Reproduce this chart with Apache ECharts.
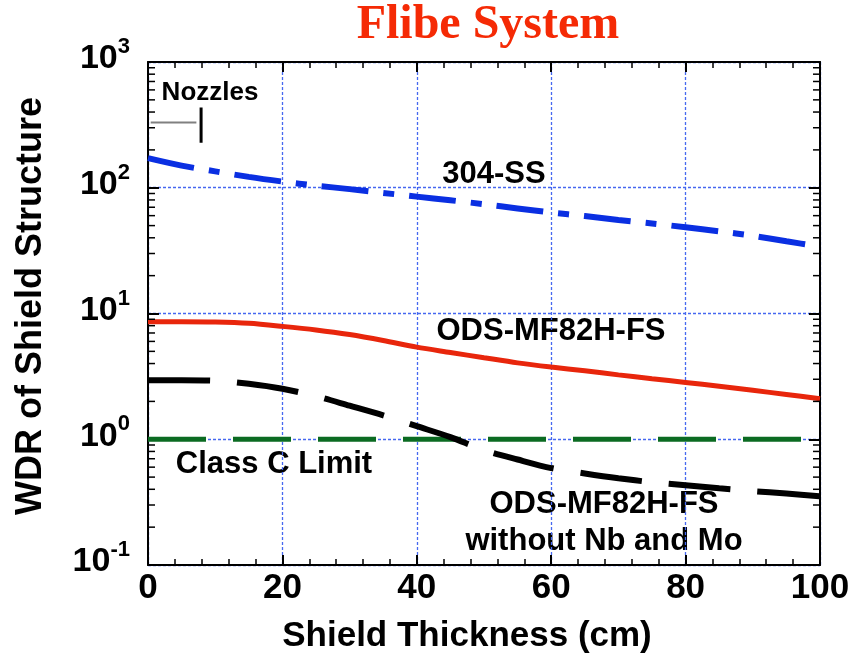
<!DOCTYPE html>
<html>
<head>
<meta charset="utf-8">
<script src="https://cdn.jsdelivr.net/npm/echarts@6/dist/echarts.min.js"></script>
<style>
  html, body { margin: 0; padding: 0; background: #fff; }
  #chart { width: 853px; height: 655px; }
</style>
</head>
<body>
<div id="chart"></div>
<script>
// shield thickness (cm)
const thickness = [0, 5, 10, 15, 20, 25, 30, 35, 40, 45, 50, 55, 60, 65, 70, 75, 80, 85, 90, 95, 100];
// WDR values
const ss304 = [172, 150, 135, 122, 112, 104, 97.5, 91, 85, 79.5, 74, 68.5, 63.5, 59.5, 55.5, 52, 48.5, 45, 41.5, 37.5, 34];
const odsFs = [8.6, 8.6, 8.55, 8.35, 7.9, 7.4, 6.8, 6.1, 5.4, 4.9, 4.45, 4.05, 3.75, 3.5, 3.25, 3.03, 2.83, 2.64, 2.45, 2.27, 2.1];
const odsNoNbMo = [2.95, 2.95, 2.92, 2.76, 2.52, 2.2, 1.85, 1.55, 1.27, 1.04, 0.82, 0.69, 0.59, 0.535, 0.49, 0.455, 0.43, 0.407, 0.387, 0.37, 0.352];
const limitX = [0, 100];
const limitY = [1, 1];
// nozzles marker
const nozzleBarX = [0.4, 7.2];
const nozzleBarY = [330, 330];
const nozzleTickX = [7.9, 7.9];
const nozzleTickY = [434, 228];
// axes
const xTicks = [0, 20, 40, 60, 80, 100];
const yDecades = [0.1, 1, 10, 100, 1000];
const minorFactors = [2, 3, 4, 5, 6, 7, 8, 9];

const FONT = '"Liberation Sans", Arial, Helvetica, sans-serif';
const GRID_COLOR = '#4668f0';
const pair = (xs, ys) => xs.map((x, i) => [x, ys[i]]);

const minorVals = [];
yDecades.slice(0, -1).forEach(d => minorFactors.forEach(f => minorVals.push([0, d * f])));

const chart = echarts.init(document.getElementById('chart'));

const option = {
  animation: false,
  grid: { left: 148, right: 33, top: 62, bottom: 90 },
  xAxis: [
    {
      type: 'value', min: xTicks[0], max: xTicks[xTicks.length - 1], interval: 20,
      axisLine: { onZero: false, lineStyle: { color: '#000', width: 2 } },
      axisTick: { inside: true, length: 10, lineStyle: { color: '#000', width: 2 } },
      minorTick: { show: true, splitNumber: 5, length: 6, lineStyle: { color: '#000', width: 1.5 } },
      axisLabel: { margin: 6, color: '#000', fontSize: 35, fontWeight: 'bold', fontFamily: FONT },
      splitLine: { show: true, lineStyle: { color: GRID_COLOR, width: 1.3, type: [3, 2], opacity: 1 } }
    },
    {
      type: 'value', position: 'top', min: 0, max: 100, interval: 20,
      axisLine: { onZero: false, lineStyle: { color: '#000', width: 2 } },
      axisTick: { inside: true, length: 10, lineStyle: { color: '#000', width: 2 } },
      minorTick: { show: true, splitNumber: 5, length: 6, lineStyle: { color: '#000', width: 1.5 } },
      axisLabel: { show: false },
      splitLine: { show: false }
    }
  ],
  yAxis: [
    {
      type: 'log', logBase: 10, min: yDecades[0], max: yDecades[yDecades.length - 1],
      axisLine: { onZero: false, lineStyle: { color: '#000', width: 2 } },
      axisTick: { inside: true, length: 11, lineStyle: { color: '#000', width: 2 } },
      axisLabel: {
        margin: 18,
        padding: [0, 0, 12, 0],
        formatter: v => '{b|10}{s|' + Math.round(Math.log10(v)) + '}',
        rich: {
          b: { fontSize: 34, fontWeight: 'bold', fontFamily: FONT, color: '#000', lineHeight: 40, verticalAlign: 'bottom' },
          s: { fontSize: 22, fontWeight: 'bold', fontFamily: FONT, color: '#000', lineHeight: 40, verticalAlign: 'top' }
        }
      },
      splitLine: { show: true, lineStyle: { color: GRID_COLOR, width: 1.3, type: [3, 2], opacity: 1 } }
    },
    {
      type: 'log', logBase: 10, position: 'right', min: 0.1, max: 1000,
      axisLine: { onZero: false, lineStyle: { color: '#000', width: 2 } },
      axisTick: { inside: true, length: 11, lineStyle: { color: '#000', width: 2 } },
      axisLabel: { show: false },
      splitLine: { show: false }
    }
  ],
  series: [
    {
      type: 'custom', silent: true, clip: false, z: 5,
      encode: { x: 0, y: 1 },
      data: minorVals,
      renderItem: (params, api) => {
        const v = api.value(1);
        const l = api.coord([0, v]);
        const r = api.coord([100, v]);
        return {
          type: 'group',
          children: [
            { type: 'line', shape: { x1: l[0], y1: l[1], x2: l[0] + 7, y2: l[1] }, style: { stroke: '#000', lineWidth: 1.5 } },
            { type: 'line', shape: { x1: r[0] - 7, y1: r[1], x2: r[0], y2: r[1] }, style: { stroke: '#000', lineWidth: 1.5 } }
          ]
        };
      }
    },
    {
      name: 'Class C Limit', type: 'line', data: pair(limitX, limitY), symbol: 'none',
      lineStyle: { color: '#0b6b22', width: 5, type: [58, 27] }
    },
    {
      name: '304-SS', type: 'line', data: pair(thickness, ss304), symbol: 'none', smooth: 0.3,
      lineStyle: { color: '#0a2fe2', width: 6, type: [47, 15, 11, 15] }
    },
    {
      name: 'ODS-MF82H-FS', type: 'line', data: pair(thickness, odsFs), symbol: 'none', smooth: 0.3,
      lineStyle: { color: '#e8260c', width: 5 }
    },
    {
      name: 'ODS-MF82H-FS without Nb and Mo', type: 'line', data: pair(thickness, odsNoNbMo), symbol: 'none', smooth: 0.3,
      lineStyle: { color: '#000', width: 6, type: [62, 27] }
    },
    {
      name: 'nozzles bar', type: 'line', data: pair(nozzleBarX, nozzleBarY), symbol: 'none',
      lineStyle: { color: '#808080', width: 2 }
    },
    {
      name: 'nozzles tick', type: 'line', data: pair(nozzleTickX, nozzleTickY), symbol: 'none',
      lineStyle: { color: '#000', width: 3 }
    }
  ],
  graphic: [
    { type: 'text', x: 488, y: 26, style: { text: 'Flibe System', fill: '#f52a05', font: 'bold 48px "Liberation Serif", "Times New Roman", serif', align: 'center', verticalAlign: 'middle' } },
    { type: 'text', x: 31, y: 306, rotation: Math.PI / 2, style: { text: 'WDR of Shield Structure', fill: '#000', font: 'bold 36px ' + FONT, align: 'center', verticalAlign: 'middle' } },
    { type: 'text', x: 467, y: 636, style: { text: 'Shield Thickness (cm)', fill: '#000', font: 'bold 35px ' + FONT, align: 'center', verticalAlign: 'middle' } },
    { type: 'text', x: 210, y: 93, style: { text: 'Nozzles', fill: '#000', font: 'bold 26px ' + FONT, align: 'center', verticalAlign: 'middle' } },
    { type: 'text', x: 494, y: 174, style: { text: '304-SS', fill: '#000', font: 'bold 31px ' + FONT, align: 'center', verticalAlign: 'middle' } },
    { type: 'text', x: 551, y: 331, style: { text: 'ODS-MF82H-FS', fill: '#000', font: 'bold 31px ' + FONT, align: 'center', verticalAlign: 'middle' } },
    { type: 'text', x: 274, y: 464, style: { text: 'Class C Limit', fill: '#000', font: 'bold 31px ' + FONT, align: 'center', verticalAlign: 'middle' } },
    { type: 'text', x: 604, y: 504, style: { text: 'ODS-MF82H-FS', fill: '#000', font: 'bold 31px ' + FONT, align: 'center', verticalAlign: 'middle' } },
    { type: 'text', x: 604, y: 541, style: { text: 'without Nb and Mo', fill: '#000', font: 'bold 31px ' + FONT, align: 'center', verticalAlign: 'middle' } }
  ]
};

chart.setOption(option);
</script>
</body>
</html>
